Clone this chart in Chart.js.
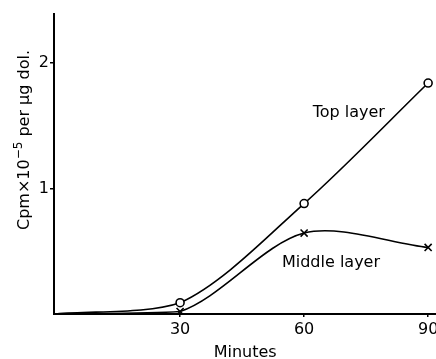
<!DOCTYPE html>
<html>
<head>
<meta charset="utf-8">
<script src="https://cdn.jsdelivr.net/npm/chart.js@4"></script>
<style>
  html, body { margin: 0; padding: 0; background: #fff; overflow: hidden; }
  #wrap { width: 436px; height: 359px; overflow: hidden; }
</style>
</head>
<body>
<div id="wrap"><canvas id="c" width="443" height="359"></canvas></div>
<script>
// Data
const minutes = [0, 30, 60, 90];
const topLayer = [0, 0.09, 0.88, 1.84];
const middleLayer = [0, 0.02, 0.645, 0.53];
const xTicks = [30, 60, 90];
const yTicks = [1, 2];
const seriesLabels = ['Top layer', 'Middle layer'];
const labelPos = [[70.8, 1.60], [66.5, 0.405]]; // data coords of the text labels
const xTitle = 'Minutes';

const FONT = "'DejaVu Sans', sans-serif";

function toXY(ys) { return minutes.map((m, i) => ({ x: m, y: ys[i] })); }
function radii(r) { return minutes.map(m => (m === 0 ? 0 : r)); }

const textPlugin = {
  id: 'texts',
  afterDatasetsDraw(chart) {
    const { ctx, scales } = chart;
    ctx.save();
    ctx.fillStyle = '#000';
    ctx.font = '16px ' + FONT;
    ctx.textAlign = 'center';
    ctx.textBaseline = 'middle';
    seriesLabels.forEach((t, i) => {
      ctx.fillText(t, scales.x.getPixelForValue(labelPos[i][0]), scales.y.getPixelForValue(labelPos[i][1]));
    });
    // rotated y-axis title with superscript
    const parts = [
      { t: 'Cpm\u00D710', size: 16, rise: 0 },
      { t: '\u22125', size: 12, rise: 7 },
      { t: ' per \u00B5g dol.', size: 16, rise: 0 }
    ];
    let total = 0;
    parts.forEach(p => { ctx.font = p.size + 'px ' + FONT; p.w = ctx.measureText(p.t).width; total += p.w; });
    ctx.translate(29, 140);
    ctx.rotate(-Math.PI / 2);
    ctx.textAlign = 'left';
    ctx.textBaseline = 'alphabetic';
    let x = -total / 2;
    parts.forEach(p => {
      ctx.font = p.size + 'px ' + FONT;
      ctx.fillText(p.t, x, -p.rise);
      x += p.w;
    });
    ctx.restore();
  }
};

new Chart(document.getElementById('c'), {
  type: 'line',
  data: {
    datasets: [
      {
        label: seriesLabels[0],
        data: toXY(topLayer),
        borderColor: '#000',
        borderWidth: 1.6,
        pointStyle: 'circle',
        pointRadius: radii(4),
        pointBackgroundColor: '#fff',
        pointBorderColor: '#000',
        pointBorderWidth: 1.6,
        tension: 0.3,
        fill: false
      },
      {
        label: seriesLabels[1],
        data: toXY(middleLayer),
        borderColor: '#000',
        borderWidth: 1.6,
        pointStyle: 'crossRot',
        pointRadius: radii(5),
        pointBorderColor: '#000',
        pointBorderWidth: 1.6,
        tension: 0.3,
        fill: false
      }
    ]
  },
  options: {
    responsive: false,
    animation: false,
    devicePixelRatio: 1,
    layout: { padding: { top: 14, right: 0, left: 0, bottom: 0 } },
    plugins: { legend: { display: false }, tooltip: { enabled: false } },
    scales: {
      x: {
        type: 'linear',
        min: -0.5,
        max: 92,
        afterBuildTicks(s) { s.ticks = xTicks.map(v => ({ value: v })); },
        afterFit(s) { s.height = 45; },
        border: { display: true, color: '#000', width: 2 },
        grid: { display: true, drawOnChartArea: false, drawTicks: true, tickLength: 3, color: '#000', lineWidth: 1.5 },
        ticks: { color: '#000', font: { family: FONT, size: 16 }, padding: 3, maxRotation: 0 },
        title: { display: true, text: xTitle, color: '#000', font: { family: FONT, size: 16 }, padding: { top: 0, bottom: -3 } }
      },
      y: {
        type: 'linear',
        min: 0,
        max: 2.39,
        afterBuildTicks(s) { s.ticks = yTicks.map(v => ({ value: v })); },
        afterFit(s) { s.width = 54; },
        border: { display: true, color: '#000', width: 2 },
        grid: { display: true, drawOnChartArea: false, drawTicks: true, tickLength: 4, color: '#000', lineWidth: 1.5 },
        ticks: { color: '#000', font: { family: FONT, size: 16 }, padding: 1 }
      }
    }
  },
  plugins: [textPlugin]
});
</script>
</body>
</html>
